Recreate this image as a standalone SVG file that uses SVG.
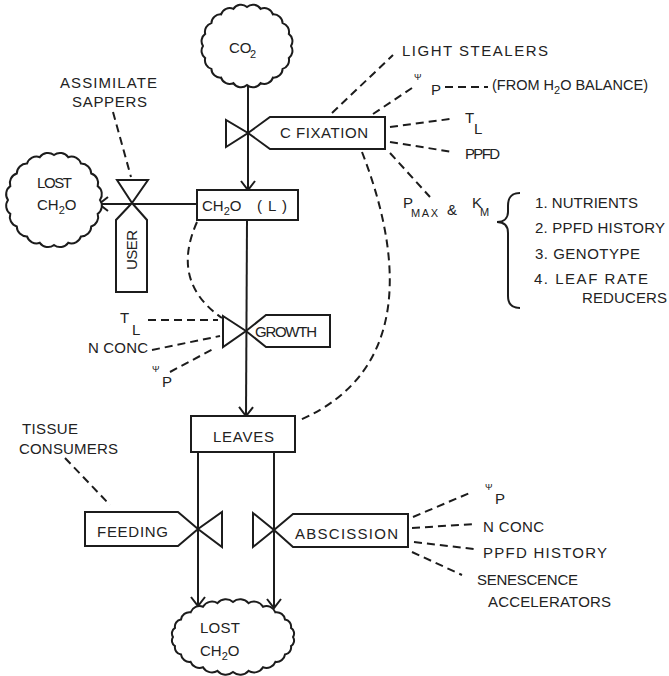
<svg xmlns="http://www.w3.org/2000/svg" width="669" height="676" viewBox="0 0 669 676">
<defs>
<style>
.ln{stroke:#1c1c1c;stroke-width:2;fill:none}
.dash{stroke:#1c1c1c;stroke-width:2;fill:none;stroke-dasharray:8 5}
.sh{fill:#fff;stroke:#1c1c1c;stroke-width:2;stroke-linejoin:miter}
text{font-family:"Liberation Sans",Arial,sans-serif;font-size:15px;fill:#222}
.sm{font-size:11px}
.ps{font-size:9px}
</style>
<marker id="arr" markerUnits="userSpaceOnUse" viewBox="-11 -8 13 16" refX="0" refY="0" markerWidth="13" markerHeight="16" orient="auto">
<path d="M-9,-7 L0,0 L-9,7" fill="none" stroke="#1c1c1c" stroke-width="2"/>
</marker>
</defs>
<rect width="669" height="676" fill="#fff"/>

<g id="connectors">
<path class="ln" d="M248,85 L248,190" marker-end="url(#arr)"/>
<path class="ln" d="M197,204 L99,204" marker-end="url(#arr)"/>
<path class="ln" d="M247,220 L246,416" marker-end="url(#arr)"/>
<path class="ln" d="M198,452 L198,606" marker-end="url(#arr)"/>
<path class="ln" d="M274,452 L274,608" marker-end="url(#arr)"/>
<path class="dash" d="M113,112 L131,177"/>
<path class="dash" d="M332,113 L393,55"/>
<path class="dash" d="M373,114 L412,88"/>
<path class="dash" d="M445,87 L488,87"/>
<path class="dash" d="M390,127 L450,119"/>
<path class="dash" d="M390,142 L453,152"/>
<path class="dash" d="M390,153 L430,197"/>
<path class="dash" d="M197,222 Q170,282 222,318"/>
<path class="dash" d="M362,152 C400,250 415,370 300,420"/>
<path class="dash" d="M148,320 L218,320"/>
<path class="dash" d="M152,350 L220,336"/>
<path class="dash" d="M170,372 L215,348"/>
<path class="dash" d="M65,458 L110,505"/>
<path class="dash" d="M413,517 L472,492"/>
<path class="dash" d="M412,528 L474,524"/>
<path class="dash" d="M414,542 L474,549"/>
<path class="dash" d="M412,552 L462,575"/>
<path class="ln" d="M520,193 C510,193 508,199 508,206 L508,212 C508,218 504,222 497,222 C504,222 508,226 508,233 L508,296 C508,303 511,308 520,308"/>
</g>

<g id="co2">
<path class="sh" d="M291,46 A9 9 0 0 1 288.8,58.1 A9 9 0 0 1 282.6,68.9 A9 9 0 0 1 272.9,77.6 A9 9 0 0 1 260.6,83.1 A9 9 0 0 1 247,85 A9 9 0 0 1 233.4,83.1 A9 9 0 0 1 221.1,77.6 A9 9 0 0 1 211.4,68.9 A9 9 0 0 1 205.2,58.1 A9 9 0 0 1 203,46 A9 9 0 0 1 205.2,33.9 A9 9 0 0 1 211.4,23.1 A9 9 0 0 1 221.1,14.4 A9 9 0 0 1 233.4,8.9 A9 9 0 0 1 247,7 A9 9 0 0 1 260.6,8.9 A9 9 0 0 1 272.9,14.4 A9 9 0 0 1 282.6,23.1 A9 9 0 0 1 288.8,33.9 A9 9 0 0 1 291,46 Z"/>
<text x="229" y="53">CO</text><text x="250" y="58" class="sm">2</text>
</g>

<g id="lost-left">
<path class="sh" d="M100,200 A10 10 0 0 1 97.7,213.9 A10 10 0 0 1 91.2,226.5 A10 10 0 0 1 81,236.4 A10 10 0 0 1 68.2,242.8 A10 10 0 0 1 54,245 A10 10 0 0 1 39.8,242.8 A10 10 0 0 1 27,236.4 A10 10 0 0 1 16.8,226.5 A10 10 0 0 1 10.3,213.9 A10 10 0 0 1 8,200 A10 10 0 0 1 10.3,186.1 A10 10 0 0 1 16.8,173.5 A10 10 0 0 1 27,163.6 A10 10 0 0 1 39.8,157.2 A10 10 0 0 1 54,155 A10 10 0 0 1 68.2,157.2 A10 10 0 0 1 81,163.6 A10 10 0 0 1 91.2,173.5 A10 10 0 0 1 97.7,186.1 A10 10 0 0 1 100,200 Z"/>
<text x="37" y="188" textLength="35">LOST</text>
<text x="37" y="210">CH<tspan class="sm" dy="4">2</tspan><tspan dy="-4">O</tspan></text>
</g>

<g id="assimilate-sappers">
<text x="60" y="88" textLength="97">ASSIMILATE</text>
<text x="72" y="107" textLength="75">SAPPERS</text>
</g>

<g id="user">
<polygon class="sh" points="117,180 148,180 132,203"/>
<polygon class="sh" points="132,203 147,220 147,292 116,292 116,220"/>
<text transform="translate(137,250) rotate(-90)" text-anchor="middle" textLength="40">USER</text>
</g>

<g id="c-fixation">
<polygon class="sh" points="226,120 226,147 248,133"/>
<polygon class="sh" points="248,133 270,117 385,117 385,149 270,149"/>
<text x="280" y="138" textLength="88">C FIXATION</text>
</g>

<g id="ch2o-l">
<rect class="sh" x="197" y="190" width="101" height="30"/>
<text x="202" y="211">CH<tspan class="sm" dy="4">2</tspan><tspan dy="-4">O</tspan></text>
<text x="257" y="211" textLength="30">( L )</text>
</g>

<g id="growth">
<polygon class="sh" points="223,316 223,347 246,331"/>
<polygon class="sh" points="246,331 266,315 330,315 330,347 266,347"/>
<text x="255" y="337" textLength="62">GROWTH</text>
</g>

<g id="growth-inputs">
<text x="120" y="323">T</text><text x="132" y="335">L</text>
<text x="88" y="353" textLength="60">N CONC</text>
<text x="152" y="372" class="ps">Ψ</text><text x="162" y="387">P</text>
</g>

<g id="leaves">
<rect class="sh" x="191" y="416" width="104" height="36"/>
<text x="213" y="442" textLength="61">LEAVES</text>
</g>

<g id="tissue-consumers">
<text x="22" y="434" textLength="56">TISSUE</text>
<text x="19" y="454" textLength="99">CONSUMERS</text>
</g>

<g id="feeding">
<polygon class="sh" points="222,512 222,547 198,529"/>
<polygon class="sh" points="198,529 178,512 85,512 85,546 178,546"/>
<text x="97" y="537" textLength="71">FEEDING</text>
</g>

<g id="abscission">
<polygon class="sh" points="253,513 253,547 274,530"/>
<polygon class="sh" points="274,530 293,514 408,514 408,547 293,547"/>
<text x="295" y="539" textLength="103">ABSCISSION</text>
</g>

<g id="abscission-inputs">
<text x="485" y="490" class="ps">Ψ</text><text x="495" y="504">P</text>
<text x="483" y="532" textLength="61">N CONC</text>
<text x="483" y="558" textLength="124">PPFD HISTORY</text>
<text x="477" y="585" textLength="101">SENESCENCE</text>
<text x="488" y="607" textLength="123">ACCELERATORS</text>
</g>

<g id="lost-bottom">
<path class="sh" d="M293,637 A6.5 6.5 0 0 1 291,646.1 A7.2 7.2 0 0 1 285,654.5 A8.5 8.5 0 0 1 275.4,661.8 A9.5 9.5 0 0 1 263,667.3 A10.4 10.4 0 0 1 248.5,670.8 A10.9 10.9 0 0 1 233,672 A10.9 10.9 0 0 1 217.5,670.8 A10.4 10.4 0 0 1 203,667.3 A9.5 9.5 0 0 1 190.6,661.8 A8.5 8.5 0 0 1 181,654.5 A7.2 7.2 0 0 1 175,646.1 A6.5 6.5 0 0 1 173,637 A6.5 6.5 0 0 1 175,627.9 A7.2 7.2 0 0 1 181,619.5 A8.5 8.5 0 0 1 190.6,612.3 A9.5 9.5 0 0 1 203,606.7 A10.4 10.4 0 0 1 217.5,603.2 A10.9 10.9 0 0 1 233,602 A10.9 10.9 0 0 1 248.5,603.2 A10.4 10.4 0 0 1 263,606.7 A9.5 9.5 0 0 1 275.4,612.3 A8.5 8.5 0 0 1 285,619.5 A7.2 7.2 0 0 1 291,627.9 A6.5 6.5 0 0 1 293,637 Z"/>
<text x="200" y="633" textLength="40">LOST</text>
<text x="200" y="656">CH<tspan class="sm" dy="4">2</tspan><tspan dy="-4">O</tspan></text>
</g>

<g id="c-fixation-inputs">
<text x="402" y="56" textLength="146">LIGHT STEALERS</text>
<text x="414" y="80" class="ps">Ψ</text><text x="431" y="95">P</text>
<text x="492" y="90" style="font-size:14.5px">(FROM H<tspan class="sm" dy="4">2</tspan><tspan dy="-4">O BALANCE)</tspan></text>
<text x="465" y="123">T</text><text x="474" y="134">L</text>
<text x="465" y="159" textLength="35">PPFD</text>
<text x="403" y="208">P</text><text x="411" y="217" class="sm" textLength="27">MAX</text>
<text x="447" y="215">&amp;</text>
<text x="472" y="208">K</text><text x="480" y="216" class="sm">M</text>
</g>

<g id="pmax-factors">
<text x="535" y="208" textLength="103">1. NUTRIENTS</text>
<text x="535" y="233" textLength="130">2. PPFD HISTORY</text>
<text x="535" y="259" textLength="105">3. GENOTYPE</text>
<text x="534" y="284" textLength="114">4. LEAF RATE</text>
<text x="582" y="303" textLength="85">REDUCERS</text>
</g>
</svg>
